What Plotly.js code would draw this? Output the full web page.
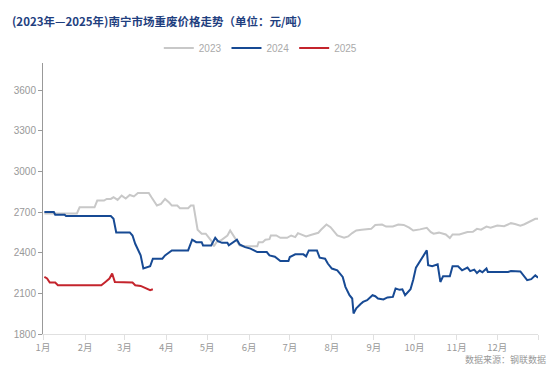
<!DOCTYPE html>
<html>
<head>
<meta charset="utf-8">
<script src="https://cdn.plot.ly/plotly-3.0.1.min.js"></script>
<style>html,body{margin:0;padding:0;background:#fff;}#chart{width:554px;height:377px;}</style>
</head>
<body>
<div id="chart"></div>
<script>
// Dates (month-day) plotted on a common year axis
const dates2023 = ["01-02","01-26","01-28","02-08","02-10","02-15","02-17","02-20","02-22","02-25","02-28","03-02","03-05","03-08","03-11","03-19","03-21","03-25","03-28","03-31","04-03","04-05","04-09","04-11","04-17","04-19","04-21","04-24","04-27","04-30","05-02","05-04","05-06","05-08","05-11","05-16","05-18","05-20","05-23","05-25","05-27","06-07","06-08","06-11","06-13","06-16","06-17","06-21","06-24","06-29","07-02","07-05","07-07","07-10","07-13","07-17","07-19","07-22","07-24","07-28","07-31","08-03","08-05","08-10","08-13","08-16","08-19","08-23","08-27","08-30","09-02","09-07","09-10","09-15","09-19","09-23","09-27","09-30","10-05","10-10","10-13","10-15","10-19","10-24","10-27","10-29","11-03","11-09","11-13","11-16","11-19","11-23","11-26","12-01","12-06","12-11","12-14","12-18","12-21","12-26","12-29","12-31"];
const values2023 = [2690,2690,2735,2735,2785,2785,2797,2797,2809,2790,2821,2800,2826,2815,2841,2841,2809,2748,2760,2797,2770,2748,2748,2728,2728,2748,2748,2570,2540,2540,2515,2490,2447,2478,2490,2527,2564,2535,2490,2454,2447,2447,2478,2478,2496,2500,2527,2527,2510,2510,2527,2515,2544,2532,2520,2532,2540,2547,2569,2608,2588,2550,2527,2510,2520,2545,2564,2569,2576,2576,2605,2608,2593,2593,2608,2605,2585,2564,2572,2584,2552,2540,2548,2535,2508,2535,2535,2552,2555,2576,2570,2593,2585,2600,2595,2618,2612,2600,2610,2637,2650,2650];

const dates2024 = ["01-02","01-09","01-10","01-17","01-18","02-20","02-22","02-24","03-05","03-07","03-09","03-11","03-13","03-15","03-17","03-20","03-22","03-29","03-31","04-02","04-05","04-17","04-20","04-23","04-27","04-28","05-04","05-07","05-09","05-12","05-16","05-17","05-20","05-23","05-25","05-29","06-02","06-07","06-14","06-16","06-20","06-24","06-30","07-01","07-05","07-11","07-13","07-15","07-21","07-23","07-27","07-29","08-01","08-05","08-09","08-11","08-14","08-16","08-17","08-19","08-22","08-24","08-27","08-31","09-02","09-04","09-08","09-11","09-15","09-17","09-20","09-22","09-24","09-28","09-30","10-02","10-10","10-11","10-14","10-18","10-20","10-22","10-27","10-29","11-02","11-05","11-09","11-11","11-14","11-16","11-18","11-20","11-23","11-24","12-09","12-11","12-18","12-20","12-23","12-26","12-28","12-29","12-31"];
const values2024 = [2700,2700,2680,2680,2670,2670,2650,2550,2550,2527,2466,2417,2380,2283,2290,2300,2356,2356,2380,2393,2417,2417,2496,2478,2478,2454,2454,2510,2485,2473,2473,2454,2475,2496,2461,2441,2430,2405,2405,2380,2370,2339,2339,2368,2388,2388,2373,2417,2417,2363,2356,2320,2283,2270,2221,2148,2086,2062,1952,1989,2020,2037,2050,2086,2079,2062,2055,2070,2074,2136,2126,2130,2086,2130,2200,2290,2417,2307,2300,2314,2184,2226,2226,2300,2300,2270,2290,2264,2275,2250,2268,2255,2283,2258,2258,2265,2262,2233,2197,2205,2221,2233,2216];

const dates2025 = ["01-02","01-04","01-06","01-10","01-12","02-13","02-16","02-19","02-21","02-23","03-07","03-09","03-13","03-16","03-20","03-22"];
const values2025 = [2221,2210,2180,2180,2160,2160,2184,2209,2246,2184,2180,2160,2155,2140,2123,2130];

const monthLabels = ["1月","2月","3月","4月","5月","6月","7月","8月","9月","10月","11月","12月",""];
const monthTicks = ["01-01","02-01","03-01","04-01","05-01","06-01","07-01","08-01","09-01","10-01","11-01","12-01"];

const Y = "2024-";
const toX = arr => arr.map(d => Y + d);

const traces = [
  {name:"2023", x:toX(dates2023), y:values2023, type:"scatter", mode:"lines", line:{color:"#c8c8c8", width:2}},
  {name:"2024", x:toX(dates2024), y:values2024, type:"scatter", mode:"lines", line:{color:"#174a94", width:2}},
  {name:"2025", x:toX(dates2025), y:values2025, type:"scatter", mode:"lines", line:{color:"#c4242c", width:2}}
];

const tickvals = toX(monthTicks).concat(["2024-12-31"]);

const layout = {
  width:554, height:377,
  margin:{l:43, r:16, t:63, b:43},
  paper_bgcolor:"#fff", plot_bgcolor:"#fff",
  font:{family:"Liberation Sans, Noto Sans CJK SC, sans-serif", color:"#999", size:10},
  title:{text:"<b>(2023年—2025年)南宁市场重废价格走势（单位：元/吨）</b>", x:12/554, xanchor:"left", xref:"container", y:1-22/377, yanchor:"middle", yref:"container",
         font:{family:"Noto Sans CJK SC, sans-serif", size:11.5, color:"#1f3f7f"}},
  showlegend:true,
  legend:{orientation:"h", x:0.44, xanchor:"center", y:1-48/377, yref:"container", yanchor:"middle",
          font:{size:10, color:"#aaa"}, itemwidth:30, tracegroupgap:0, bgcolor:"rgba(0,0,0,0)"},
  xaxis:{type:"date", range:["2024-01-01","2024-12-31"], tickmode:"array", tickvals:tickvals, ticktext:monthLabels,
         showgrid:false, zeroline:false, showline:true, linecolor:"#e0e0e0", linewidth:1,
         ticks:"outside", ticklen:5, tickcolor:"#e0e0e0", tickfont:{family:"Noto Sans CJK SC, sans-serif", size:9.5, color:"#999"}},
  yaxis:{range:[1800,3800], tickmode:"array", tickvals:[1800,2100,2400,2700,3000,3300,3600],
         showgrid:false, zeroline:false, showline:true, linecolor:"#999", linewidth:1,
         ticks:"outside", ticklen:4, tickcolor:"#999", tickfont:{size:10, color:"#999"}},
  annotations:[{text:"数据来源：钢联数据", xref:"paper", yref:"paper", x:1, y:-(351-334)/271, xanchor:"right", yanchor:"top", showarrow:false,
                xshift:10, font:{family:"Noto Sans CJK SC, sans-serif", size:9, color:"#999"}}]
};

Plotly.newPlot("chart", traces, layout, {displayModeBar:false, staticPlot:true});
</script>
</body>
</html>
